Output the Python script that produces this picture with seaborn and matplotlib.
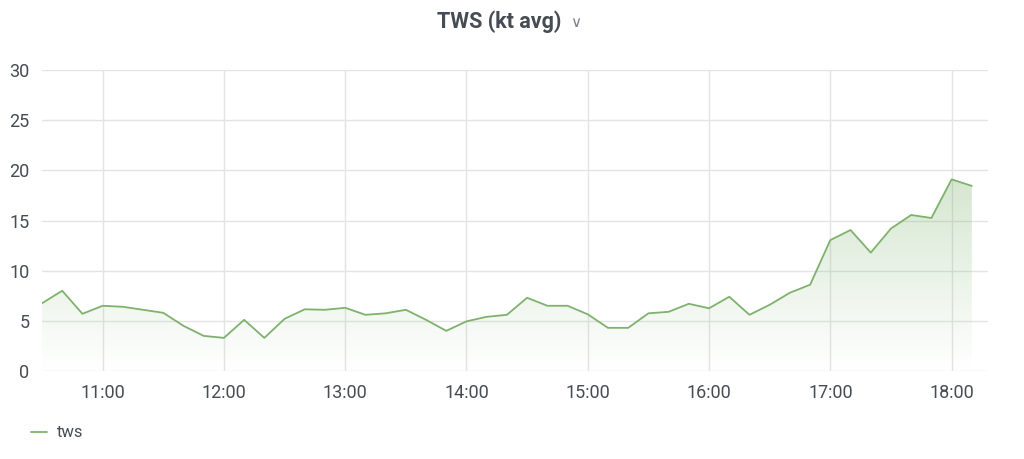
import numpy as np
import pandas as pd
import seaborn as sns
import matplotlib.pyplot as plt
import matplotlib.dates as mdates
from matplotlib.colors import LinearSegmentedColormap

# TWS readings every 10 minutes, 10:30 -> 18:10
tws = [6.75, 8.0, 5.7, 6.5, 6.4, 6.1, 5.8, 4.5, 3.5, 3.3,
       5.1, 3.3, 5.2, 6.15, 6.1, 6.3, 5.6, 5.75, 6.1, 5.1,
       4.0, 4.95, 5.4, 5.6, 7.3, 6.5, 6.5, 5.65, 4.3, 4.3,
       5.75, 5.9, 6.7, 6.25, 7.4, 5.6, 6.6, 7.8, 8.6, 13.05,
       14.05, 11.8, 14.2, 15.55, 15.25, 19.1, 18.45]
start = "2023-06-01 10:30"
end_view = "2023-06-01 18:18"
yticks = [0, 5, 10, 15, 20, 25, 30]

times = pd.date_range(start, periods=len(tws), freq="10min")
df = pd.DataFrame({"time": times, "tws": tws})

green = "#7eb26d"
text_col = "#464c54"

sns.set_style("white")
plt.rcParams['font.family'] = ['Roboto', 'DejaVu Sans']

fig = plt.figure(figsize=(10.24, 4.59), dpi=100)
ax = fig.add_axes([42 / 1024, 1 - 371 / 459, (988 - 42) / 1024, (371 - 70) / 459])

sns.lineplot(data=df, x="time", y="tws", ax=ax, color=green, linewidth=1.3, label="tws", legend=False)

# gradient fill under the curve
xnum = mdates.date2num(df["time"])
poly = ax.fill_between(xnum, 0, df["tws"], color="none")
grad = np.linspace(0, 1, 256).reshape(-1, 1)
cmap = LinearSegmentedColormap.from_list("g", [(0.49, 0.70, 0.43, 0.0), (0.49, 0.70, 0.43, 0.32)])
img = ax.imshow(grad, aspect="auto", cmap=cmap, origin="lower",
                extent=[xnum[0], xnum[-1], 0, max(tws)], zorder=1)
img.set_clip_path(poly.get_paths()[0], transform=ax.transData)

ax.set_ylim(0, 30)
ax.set_xlim(pd.Timestamp(start), pd.Timestamp(end_view))
ax.set_yticks(yticks)
ax.xaxis.set_major_locator(mdates.HourLocator())
ax.xaxis.set_major_formatter(mdates.DateFormatter("%H:%M"))
ax.grid(True, color="#e4e4e4", linewidth=1)
for s in ax.spines.values():
    s.set_visible(False)
ax.tick_params(axis="both", length=0, labelsize=13, colors=text_col)
ax.tick_params(axis="x", pad=9)
ax.tick_params(axis="y", pad=9)
ax.set_xlabel("")
ax.set_ylabel("")

fig.text(0.487, 0.952, "TWS (kt avg)", ha="center", va="center", fontsize=15.5,
         fontweight="semibold", color=text_col)
# dropdown chevron next to the title
fig.text(0.5625, 0.949, "∨", ha="center", va="center", fontsize=11,
         color="#7a808a", family=["Roboto", "DejaVu Sans"])

leg = fig.legend(loc="center left", bbox_to_anchor=(0.030, 0.057), frameon=False,
                 borderpad=0, borderaxespad=0,
                 handlelength=0.95, handletextpad=0.65, fontsize=12)
for t in leg.get_texts():
    t.set_color(text_col)

plt.savefig("out.png", dpi=100)
